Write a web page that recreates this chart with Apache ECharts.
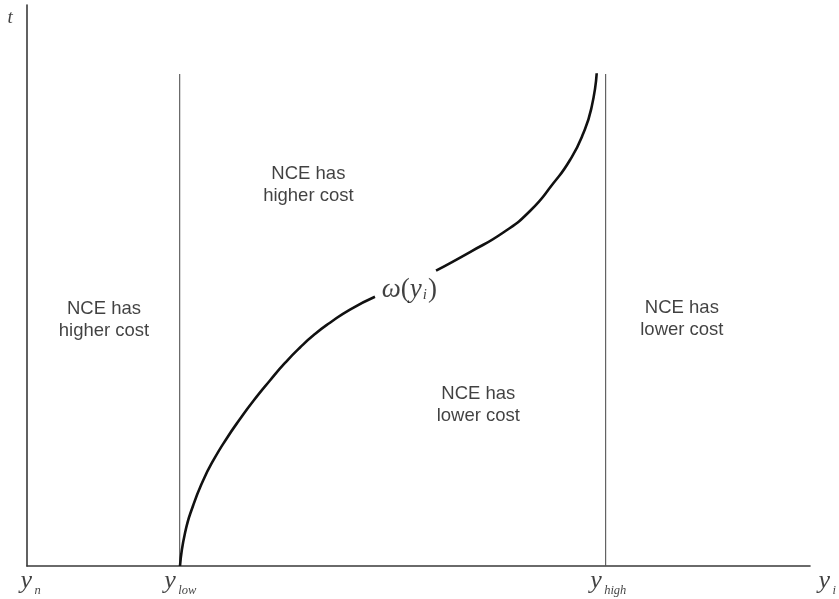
<!DOCTYPE html>
<html><head><meta charset="utf-8">
<script src="https://cdn.jsdelivr.net/npm/echarts@6/dist/echarts.min.js"></script>
<style>html,body{margin:0;padding:0;background:#fff}#c{width:839px;height:599px}</style>
</head><body><div id="c"></div>
<script>
// ---- data (axis units: x 0..100, y 0..100) ----
const curveLowerX = [19.54, 20.18, 21.24, 22.52, 23.79, 25.50, 27.20, 28.90, 31.03, 32.95, 34.87, 36.78, 38.70, 41.25, 44.44];
const curveLowerY = [0, 5.88, 10.87, 15.33, 18.81, 22.73, 26.20, 29.41, 33.07, 36.19, 38.95, 41.35, 43.37, 45.72, 48.0];
const curveUpperX = [52.24, 56.58, 60.83, 64.24, 67.22, 69.35, 71.05, 72.12, 72.76];
const curveUpperY = [52.66, 55.97, 59.45, 63.28, 68.22, 72.37, 77.13, 81.87, 87.83];
const boundaryX = [19.5, 73.9];
const boundaryTop = [87.7, 87.7];
const tickPositions = [0, 19.5, 73.9, 100];
const tickMain = ['y', 'y', 'y', 'y'];
const tickSub = ['n', 'low', 'high', 'i'];
const regionTexts = ['NCE has\nhigher cost', 'NCE has\nhigher cost', 'NCE has\nlower cost', 'NCE has\nlower cost'];
const regionX = [9.9, 36.0, 57.7, 83.7];
const regionY = [43.7, 67.9, 28.7, 43.9];
const curveLabelPos = [48.9, 49.1];
const yAxisTitle = 't';

// ---- layout constants ----
const TICK_DX = [-6, -15, -15, 9];
const SUB_GAP = 14;
const INK = '#111';
const SERIF = 'Liberation Serif';

const chart = echarts.init(document.getElementById('c'), null, {renderer: 'canvas'});

const pairs = (xs, ys) => xs.map((x, i) => [x, ys[i]]);

const boundarySeries = boundaryX.map((x, i) => ({
  type: 'line', data: [[x, 0], [x, boundaryTop[i]]], symbol: 'none', silent: true,
  lineStyle: {color: '#555', width: 1.1}, z: 2
}));

const textHolder = {type: 'scatter', symbolSize: 1, itemStyle: {color: 'rgba(0,0,0,0)'}, silent: true, z: 5};

const option = {
  animation: false,
  backgroundColor: '#fff',
  grid: {left: 27, right: 29, top: 5, bottom: 33},
  xAxis: {type: 'value', min: 0, max: 100,
    axisLine: {show: true, lineStyle: {color: '#3a3a3a', width: 1.6}},
    axisTick: {show: false}, axisLabel: {show: false}, splitLine: {show: false}},
  yAxis: {type: 'value', min: 0, max: 100,
    axisLine: {show: true, lineStyle: {color: '#3a3a3a', width: 1.6}},
    axisTick: {show: false}, axisLabel: {show: false}, splitLine: {show: false}},
  series: [
    ...boundarySeries,
    {type: 'line', data: pairs(curveLowerX, curveLowerY), symbol: 'none', smooth: 0.55,
      lineStyle: {color: '#111', width: 2.6}, silent: true, z: 3},
    {type: 'line', data: pairs(curveUpperX, curveUpperY), symbol: 'none', smooth: 0.55,
      lineStyle: {color: '#111', width: 2.6}, silent: true, z: 3},
    // region texts
    Object.assign({}, textHolder, {
      data: regionTexts.map((t, i) => ({value: [regionX[i], regionY[i]], name: t})),
      label: {show: true, position: [0, 0], align: 'center', verticalAlign: 'middle',
        formatter: p => p.name, fontFamily: 'Liberation Sans', fontSize: 18.5, lineHeight: 22,
        color: INK, textBorderWidth: 0}}),
    // curve label
    Object.assign({}, textHolder, {
      data: [{value: curveLabelPos}],
      label: {show: true, position: [0, 0], align: 'center', verticalAlign: 'middle',
        formatter: '{w|ω}{p|(}{w|y}{s|i}{p|)}',
        rich: {
          w: {fontFamily: SERIF, fontStyle: 'italic', fontSize: 27, lineHeight: 30, color: INK},
          p: {fontFamily: SERIF, fontSize: 27, lineHeight: 30, color: INK},
          s: {fontFamily: SERIF, fontStyle: 'italic', fontSize: 15, lineHeight: 15, padding: [10, 1, 0, 1], color: INK}
        }}}),
    // x-axis position labels: main letter
    Object.assign({}, textHolder, {
      data: tickPositions.map((x, i) => ({value: [x, 0], name: tickMain[i], label: {position: [TICK_DX[i], 16]}})),
      label: {show: true, align: 'left', verticalAlign: 'middle', formatter: p => p.name,
        fontFamily: SERIF, fontStyle: 'italic', fontSize: 26, color: INK}}),
    // x-axis position labels: subscript
    Object.assign({}, textHolder, {
      data: tickPositions.map((x, i) => ({value: [x, 0], name: tickSub[i], label: {position: [TICK_DX[i] + SUB_GAP, 25]}})),
      label: {show: true, align: 'left', verticalAlign: 'middle', formatter: p => p.name,
        fontFamily: SERIF, fontStyle: 'italic', fontSize: 12.5, color: INK}}),
    // y-axis title
    Object.assign({}, textHolder, {
      data: [{value: [0, 100], name: yAxisTitle}],
      label: {show: true, position: [-19, 13], align: 'left', verticalAlign: 'middle',
        formatter: p => p.name, fontFamily: SERIF, fontStyle: 'italic', fontSize: 19, color: INK}})
  ]
};
chart.setOption(option);
</script>
</body></html>
